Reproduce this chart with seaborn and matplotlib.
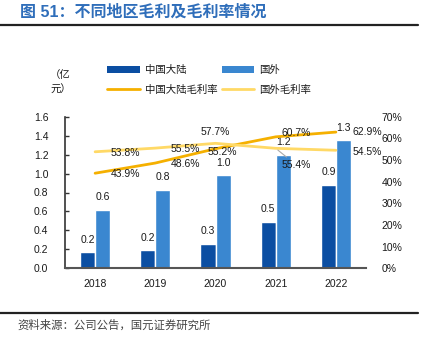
import numpy as np
import pandas as pd
import matplotlib
matplotlib.use("Agg")
import matplotlib.pyplot as plt
from matplotlib.patches import Patch
from matplotlib.lines import Line2D
import seaborn as sns

# ---------------- data ----------------
years = ["2018", "2019", "2020", "2021", "2022"]
mainland_profit = [0.17, 0.19, 0.26, 0.49, 0.88]      # 亿元
overseas_profit = [0.62, 0.83, 0.98, 1.20, 1.35]      # 亿元
mainland_labels = ["0.2", "0.2", "0.3", "0.5", "0.9"]
overseas_labels = ["0.6", "0.8", "1.0", "1.2", "1.3"]
mainland_margin = [43.9, 48.6, 55.2, 60.7, 62.9]      # %
overseas_margin = [53.8, 55.5, 57.7, 55.4, 54.5]      # %
left_ticks = [0.0, 0.2, 0.4, 0.6, 0.8, 1.0, 1.2, 1.4, 1.6]
right_ticks = [0, 10, 20, 30, 40, 50, 60, 70]
series_names = ["中国大陆", "国外"]
margin_names = ["中国大陆毛利率", "国外毛利率"]
title_text = "图 51：不同地区毛利及毛利率情况"
source_text = "资料来源：公司公告，国元证券研究所"
unit_text = "（亿\n元）"

# ---------------- style ----------------
sns.set_style("white")
plt.rcParams["font.family"] = ["Liberation Sans", "Noto Sans CJK SC", "DejaVu Sans"]
CJK = ["Noto Sans CJK SC", "DejaVu Sans"]

C_DARK = "#0B4EA2"
C_LIGHT = "#3A87D0"
C_ORANGE = "#F5B000"
C_YELLOW = "#FFD966"
TXT = "#1a1a1a"

W, H = 428, 344
fig = plt.figure(figsize=(W / 100, H / 100), dpi=100)

def fx(px):
    return px / W

def fy(py):
    return 1 - py / H

ax_l, ax_r, ax_t, ax_b = 65, 366, 116.7, 268.3
ax = fig.add_axes([fx(ax_l), fy(ax_b), fx(ax_r) - fx(ax_l), (ax_b - ax_t) / H])

df = pd.DataFrame({
    "year": years * 2,
    "value": mainland_profit + overseas_profit,
    "region": [series_names[0]] * len(years) + [series_names[1]] * len(years),
})
sns.barplot(data=df, x="year", y="value", hue="region", order=years,
            hue_order=series_names, palette=[C_DARK, C_LIGHT], width=0.5,
            saturation=1, gap=0, ax=ax, legend=False)

ax.set_xlim(-0.5, len(years) - 0.5)
ax.set_ylim(0, 1.6)
ax.set_yticks(left_ticks)
ax.set_yticklabels([f"{t:.1f}" for t in left_ticks])
ax.set_xlabel("")
ax.set_ylabel("")
for s in ["top", "right"]:
    ax.spines[s].set_visible(False)
ax.spines["left"].set_color("#333333")
ax.spines["left"].set_linewidth(1.2)
ax.spines["bottom"].set_color("#555555")
ax.spines["bottom"].set_linewidth(1.5)
ax.tick_params(axis="y", direction="in", length=3, width=1, color="#333333",
               labelsize=7.5, labelcolor=TXT, pad=12)
ax.tick_params(axis="x", length=0, labelsize=7.5, labelcolor=TXT, pad=8)
# boundary ticks on category axis
ax.set_xticks(np.arange(len(years) + 1) - 0.5, minor=True)
ax.tick_params(axis="x", which="minor", direction="in", length=3, width=1, color="#333333")

# bar labels
conts = ax.containers
for cont, labs in zip(conts, [mainland_labels, overseas_labels]):
    for rect, lab in zip(cont.patches, labs):
        ax.annotate(lab, (rect.get_x() + rect.get_width() / 2, rect.get_height()),
                    xytext=(0, 12.5), textcoords="offset pixels",
                    ha="center", va="center", fontsize=7.5, color=TXT)

# margin lines on secondary axis
ax2 = ax.twinx()
xpos = np.arange(len(years))
mdf = pd.DataFrame({"x": list(xpos) * 2,
                    "margin": mainland_margin + overseas_margin,
                    "kind": [margin_names[0]] * len(years) + [margin_names[1]] * len(years)})
sns.lineplot(data=mdf, x="x", y="margin", hue="kind", hue_order=margin_names,
             palette=[C_ORANGE, C_YELLOW], linewidth=2.0, ax=ax2, legend=False,
             sort=False)
ax2.set_ylim(0, 70)
ax2.set_yticks(right_ticks)
ax2.set_yticklabels([f"{t}%" for t in right_ticks])
ax2.set_ylabel("")
ax2.set_xlabel("")
for s in ["top", "right", "left", "bottom"]:
    ax2.spines[s].set_visible(False)
ax2.tick_params(axis="y", length=0, labelsize=7.5, labelcolor=TXT, pad=11)
ax2.set_xlim(-0.5, len(years) - 0.5)

# label offsets (pixels) for margin labels
main_off = [(30, -1), (30, -1), (7, -3), (20, 4), (31, 0)]
over_off = [(30, -1.5), (30, -1), (0, 11), (21, -17), (31, -1.5)]
for i in range(len(years)):
    ax2.annotate(f"{mainland_margin[i]:.1f}%", (xpos[i], mainland_margin[i]),
                 xytext=main_off[i], textcoords="offset pixels",
                 ha="center", va="center", fontsize=7.5, color=TXT)
    kw = {}
    if i == 3:
        kw["arrowprops"] = dict(arrowstyle="-", color="#aaaaaa", lw=0.8,
                                shrinkA=0, shrinkB=2)
    ax2.annotate(f"{overseas_margin[i]:.1f}%", (xpos[i], overseas_margin[i]),
                 xytext=over_off[i], textcoords="offset pixels",
                 ha="center", va="center", fontsize=7.5, color=TXT, **kw)

# legend
handles = [Patch(facecolor=C_DARK, edgecolor="none"),
           Line2D([], [], color=C_ORANGE, lw=2.0),
           Patch(facecolor=C_LIGHT, edgecolor="none"),
           Line2D([], [], color=C_YELLOW, lw=2.0)]
labels = [series_names[0], margin_names[0], series_names[1], margin_names[1]]
fig.legend(handles, labels, ncol=2, loc="upper left",
           bbox_to_anchor=(fx(98), fy(56)), frameon=False,
           prop={"family": CJK, "size": 7.5}, handlelength=3.1,
           handletextpad=0.5, columnspacing=0.4, labelspacing=0.9,
           labelcolor=TXT)

# unit label
fig.text(fx(50), fy(82), unit_text, ha="left", va="center", fontsize=7.5,
         family=CJK, color=TXT, linespacing=1.6)

# title and rules
fig.text(fx(20), fy(12), title_text, ha="left", va="center", fontsize=11.5,
         fontweight="bold", color="#2F6EBA",
         family=["Liberation Sans", "Noto Sans CJK SC", "DejaVu Sans"])
fig.add_artist(Line2D([0, fx(418)], [fy(24.5), fy(24.5)], color="#222222", lw=1.6))
fig.add_artist(Line2D([0, fx(418)], [fy(312.5), fy(312.5)], color="#222222", lw=1.6))
fig.text(fx(17), fy(325.5), source_text, ha="left", va="center", fontsize=8.2,
         family=CJK, color="#444444")

fig.savefig("out.png", dpi=100)
